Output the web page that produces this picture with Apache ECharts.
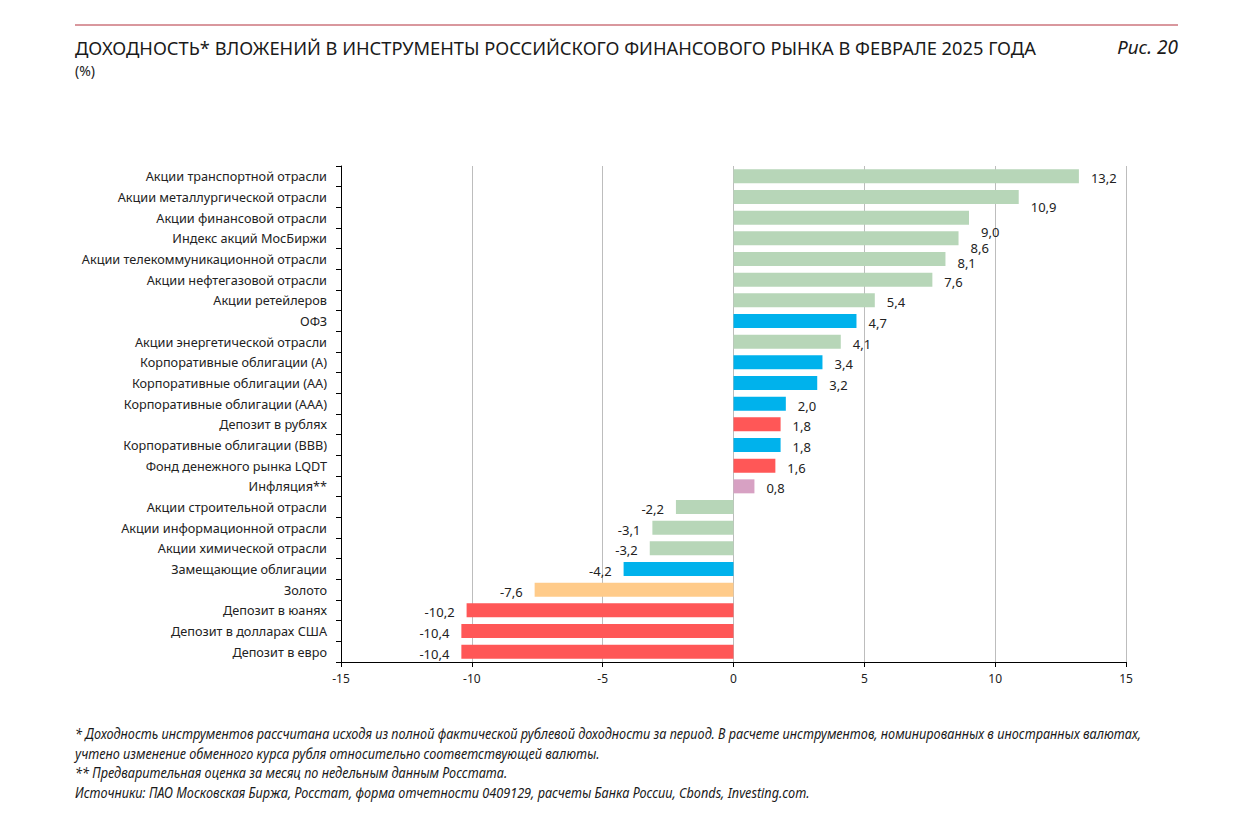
<!DOCTYPE html>
<html>
<head>
<meta charset="utf-8">
<script src="https://cdn.jsdelivr.net/npm/echarts@6/dist/echarts.min.js"></script>
<style>
html,body{margin:0;padding:0;background:#fff;}
#c{width:1260px;height:837px;}
</style>
</head>
<body>
<div id="c"></div>
<script>
const categories = [
  "Акции транспортной отрасли",
  "Акции металлургической отрасли",
  "Акции финансовой отрасли",
  "Индекс акций МосБиржи",
  "Акции телекоммуникационной отрасли",
  "Акции нефтегазовой отрасли",
  "Акции ретейлеров",
  "ОФЗ",
  "Акции энергетической отрасли",
  "Корпоративные облигации (А)",
  "Корпоративные облигации (АА)",
  "Корпоративные облигации (AAA)",
  "Депозит в рублях",
  "Корпоративные облигации (BBB)",
  "Фонд денежного рынка LQDT",
  "Инфляция**",
  "Акции строительной отрасли",
  "Акции информационной отрасли",
  "Акции химической отрасли",
  "Замещающие облигации",
  "Золото",
  "Депозит в юанях",
  "Депозит в долларах США",
  "Депозит в евро"
];
const values = [13.2, 10.9, 9.0, 8.6, 8.1, 7.6, 5.4, 4.7, 4.1, 3.4, 3.2, 2.0, 1.8, 1.8, 1.6, 0.8, -2.2, -3.1, -3.2, -4.2, -7.6, -10.2, -10.4, -10.4];
const groups = ["stock","stock","stock","stock","stock","stock","stock","bond","stock","bond","bond","bond","deposit","bond","deposit","inflation","stock","stock","stock","bond","gold","deposit","deposit","deposit"];
const xTicks = [-15, -10, -5, 0, 5, 10, 15];

const groupColors = {stock:"#B7D6B8", bond:"#00B2EC", deposit:"#FF5757", inflation:"#D7A1C3", gold:"#FFCB8A"};
// label nudges mimicking the reference's staggered labels
const labelNudge = {1:[0,10], 2:[0,14], 3:[0,10], 4:[0,4]};

const seriesData = values.map((v, i) => {
  const n = labelNudge[i] || [0, 2];
  return {
    value: v,
    itemStyle: {color: groupColors[groups[i]]},
    label: {position: v < 0 ? "left" : "right", offset: n}
  };
});

const chart = echarts.init(document.getElementById("c"), null, {renderer: "svg"});
const txt = "#222";
const noteFont = "italic 14px 'Noto Sans', sans-serif";
const noteScale = 0.907;
function note(text, top) {
  return {type: "text", x: 75, y: top, scaleX: noteScale, scaleY: 1,
    style: {text: text, fill: "#1a1a1a", font: noteFont}};
}
chart.setOption({
  animation: false,
  backgroundColor: "#fff",
  grid: {left: 341, right: 134, top: 166, bottom: 175, containLabel: false},
  xAxis: {
    type: "value", min: xTicks[0], max: xTicks[xTicks.length-1], interval: 5,
    axisLine: {show: true, onZero: false, lineStyle: {color: "#000", width: 1}},
    axisTick: {show: true, length: 5, lineStyle: {color: "#000"}},
    splitLine: {show: true, lineStyle: {color: "#BDBDBD", width: 1}},
    axisLabel: {color: txt, fontSize: 12, fontFamily: "Noto Sans", margin: 10,
      formatter: v => String(v)}
  },
  yAxis: [
    {
      type: "category", data: categories, inverse: true,
      axisLine: {show: false}, axisTick: {show: false},
      axisLabel: {color: txt, fontSize: 12.7, fontFamily: "Noto Sans", margin: 14}
    },
    {
      type: "category", data: categories, inverse: true, position: "left",
      axisLine: {show: true, onZero: true, lineStyle: {color: "#000", width: 1}},
      axisTick: {show: true, length: 5, lineStyle: {color: "#000"}},
      axisLabel: {show: false}
    }
  ],
  series: [{
    type: "bar", yAxisIndex: 0, barWidth: 14,
    data: seriesData,
    label: {show: true, distance: 12, color: txt, fontSize: 13, fontFamily: "Noto Sans",
      formatter: p => p.value.toFixed(1).replace(".", ",")}
  }],
  graphic: [
    {type: "line", shape: {x1: 75, y1: 25, x2: 1178, y2: 25}, style: {stroke: "#B3303C", lineWidth: 1}},
    {type: "text", x: 75, y: 38, scaleX: 0.963, scaleY: 1, style: {text: "ДОХОДНОСТЬ* ВЛОЖЕНИЙ В ИНСТРУМЕНТЫ РОССИЙСКОГО ФИНАНСОВОГО РЫНКА В ФЕВРАЛЕ 2025 ГОДА", fill: "#1a1a1a", font: "19px 'Noto Sans', sans-serif"}},
    {type: "text", left: 75, top: 63, style: {text: "(%)", fill: "#1a1a1a", font: "14px 'Noto Sans', sans-serif"}},
    {type: "text", right: 82, top: 37, style: {text: "Рис. 20", fill: "#1a1a1a", font: "italic 19px 'Noto Sans', sans-serif"}},
    note("* Доходность инструментов рассчитана исходя из полной фактической рублевой доходности за период. В расчете инструментов, номинированных в иностранных валютах,", 727),
    note("учтено изменение обменного курса рубля относительно соответствующей валюты.", 747),
    note("** Предварительная оценка за месяц по недельным данным Росстата.", 766),
    note("Источники: ПАО Московская Биржа, Росстат, форма отчетности 0409129, расчеты Банка России, Cbonds, Investing.com.", 786)
  ]
});
</script>
</body>
</html>
